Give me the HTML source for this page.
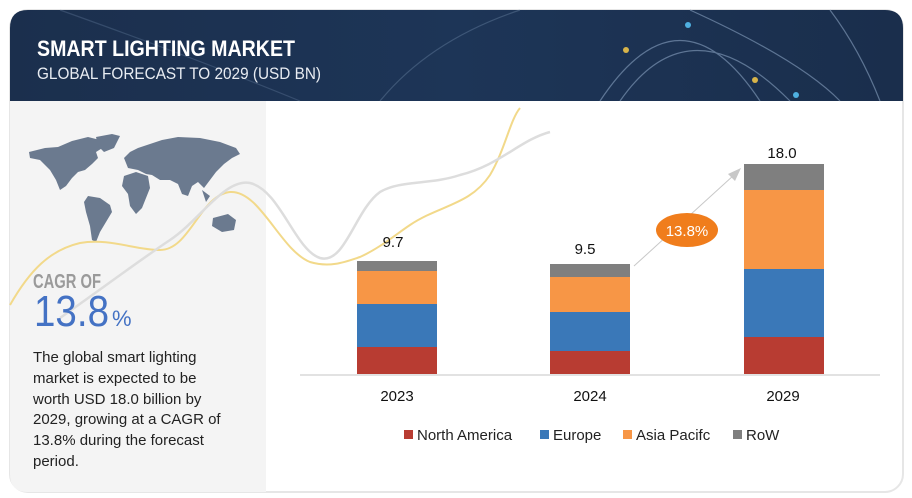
<!DOCTYPE html>
<html><head><meta charset="utf-8"><style>
body{margin:0;width:912px;height:498px;background:#fff;overflow:hidden;font-family:"Liberation Sans",sans-serif;}
</style></head><body>
<svg width="912" height="498" viewBox="0 0 912 498" xmlns="http://www.w3.org/2000/svg" style="position:absolute;left:0;top:0">
<defs>
<linearGradient id="hd" x1="0" y1="0" x2="1" y2="0"><stop offset="0" stop-color="#1b2f4d"/><stop offset="0.5" stop-color="#1d3557"/><stop offset="1" stop-color="#1a2e4c"/></linearGradient>
</defs>
<rect x="10" y="10" width="893" height="482" rx="18" fill="#fff" stroke="#e6e6e6" stroke-width="2"/>
<path d="M10,101 H266 V492 H28 Q10,492 10,474 Z" fill="#f4f4f4"/>
<path d="M28,10 H885 Q903,10 903,28 V101 H10 V28 Q10,10 28,10 Z" fill="url(#hd)"/>
<g fill="none" stroke-width="1.2" opacity="0.6">
<path d="M600,101 Q680,-20 760,101" stroke="#8aa3c2"/>
<path d="M620,101 Q690,0 790,101" stroke="#8aa3c2"/>
<path d="M690,10 Q800,60 840,101" stroke="#8aa3c2"/>
<path d="M830,10 Q860,50 880,101" stroke="#8aa3c2"/>
<path d="M380,101 Q430,40 520,10" stroke="#8aa3c2" opacity="0.5"/>
<path d="M60,10 Q200,60 300,101" stroke="#8aa3c2" opacity="0.4"/>
</g>
<circle cx="626" cy="50" r="3" fill="#d8b44a"/><circle cx="688" cy="25" r="3" fill="#4fb0e0"/><circle cx="796" cy="95" r="3" fill="#4fb0e0"/><circle cx="755" cy="80" r="3" fill="#d8b44a"/>
<text x="37" y="56" fill="#fff" font-size="22" font-weight="bold" textLength="258" lengthAdjust="spacingAndGlyphs">SMART LIGHTING MARKET</text>
<text x="37" y="79" fill="#e8ecf2" font-size="17" textLength="284" lengthAdjust="spacingAndGlyphs">GLOBAL FORECAST TO 2029 (USD BN)</text>
<g fill="#6b7a8f">
<path d="M29,152 L45,148 L58,147 L72,141 L88,137 L100,140 L104,147 L96,152 L98,158 L92,164 L85,170 L78,172 L72,178 L66,186 L60,190 L56,180 L50,170 L40,160 L30,158 Z"/>
<path d="M96,137 L112,134 L120,136 L114,148 L104,152 L98,146 Z"/>
<path d="M88,196 L100,198 L110,205 L112,212 L106,222 L100,232 L96,242 L92,240 L90,226 L86,212 L84,202 Z"/>
<path d="M124,176 L136,172 L148,176 L150,188 L146,198 L142,208 L136,214 L130,206 L128,194 L122,186 Z"/>
<path d="M124,158 L130,152 L138,148 L150,144 L162,140 L178,137 L200,138 L220,142 L236,148 L240,154 L232,158 L224,164 L216,172 L210,180 L204,188 L198,182 L192,186 L188,196 L182,194 L178,184 L170,180 L160,180 L152,175 L146,174 L138,170 L128,168 Z"/>
<path d="M213,218 L228,214 L236,220 L234,230 L222,232 L212,226 Z"/>
<path d="M202,190 L210,196 L206,202 Z"/>
</g>
<path d="M10,305 C30,270 50,250 80,243 C110,238 135,250 160,250 C190,250 200,195 230,192 C260,190 280,250 310,262 C330,268 345,262 360,257 C380,248 395,235 410,225 C440,205 470,205 490,175 C505,150 510,120 520,108" fill="none" stroke="#f2d98a" stroke-width="2"/>
<path d="M60,318 C100,290 140,260 170,240 C200,220 225,178 250,183 C280,190 295,250 320,258 C345,265 355,210 380,192 C400,180 430,185 460,175 C500,165 520,140 550,132" fill="none" stroke="#dddddd" stroke-width="2.5"/>
<text x="33" y="288" fill="#9a9a9a" font-size="20" font-weight="bold" textLength="68" lengthAdjust="spacingAndGlyphs">CAGR OF</text>
<text x="34" y="326" fill="#4472c4" font-size="44" textLength="75" lengthAdjust="spacingAndGlyphs">13.8</text>
<text x="112" y="326" fill="#4472c4" font-size="22">%</text>
<g font-size="15" fill="#222">
<text x="33" y="362">The global smart lighting</text>
<text x="33" y="383">market is expected to be</text>
<text x="33" y="404">worth USD 18.0 billion by</text>
<text x="33" y="424">2029, growing at a CAGR of</text>
<text x="33" y="445">13.8% during the forecast</text>
<text x="33" y="466">period.</text>
</g>
<line x1="300" y1="375" x2="880" y2="375" stroke="#d9d9d9" stroke-width="1.5"/>
<g>
<rect x="357" y="261" width="80" height="10" fill="#7f7f7f"/><rect x="357" y="271" width="80" height="33" fill="#f79646"/><rect x="357" y="304" width="80" height="43" fill="#3a78b8"/><rect x="357" y="347" width="80" height="27" fill="#b83c32"/>
<rect x="550" y="264" width="80" height="13" fill="#7f7f7f"/><rect x="550" y="277" width="80" height="35" fill="#f79646"/><rect x="550" y="312" width="80" height="39" fill="#3a78b8"/><rect x="550" y="351" width="80" height="23" fill="#b83c32"/>
<rect x="744" y="164" width="80" height="26" fill="#7f7f7f"/><rect x="744" y="190" width="80" height="79" fill="#f79646"/><rect x="744" y="269" width="80" height="68" fill="#3a78b8"/><rect x="744" y="337" width="80" height="37" fill="#b83c32"/>
</g>
<g font-size="15" fill="#111" text-anchor="middle">
<text x="393" y="247">9.7</text><text x="585" y="254">9.5</text><text x="782" y="158">18.0</text>
<text x="397" y="401">2023</text><text x="590" y="401">2024</text><text x="783" y="401">2029</text>
</g>
<line x1="634" y1="266" x2="734" y2="175" stroke="#c8c8c8" stroke-width="1"/>
<polygon points="741,168 728,174 735,181" fill="#c8c8c8"/>
<ellipse cx="687" cy="230" rx="31" ry="17" fill="#f07d1c"/>
<text x="687" y="236" fill="#fff" font-size="15" text-anchor="middle">13.8%</text>
<g font-size="15" fill="#222">
<rect x="404" y="430" width="9" height="9" fill="#b83c32"/><text x="417" y="440">North America</text>
<rect x="540" y="430" width="9" height="9" fill="#3a78b8"/><text x="553" y="440">Europe</text>
<rect x="623" y="430" width="9" height="9" fill="#f79646"/><text x="636" y="440">Asia Pacifc</text>
<rect x="733" y="430" width="9" height="9" fill="#7f7f7f"/><text x="746" y="440">RoW</text>
</g>
</svg>
</body></html>
